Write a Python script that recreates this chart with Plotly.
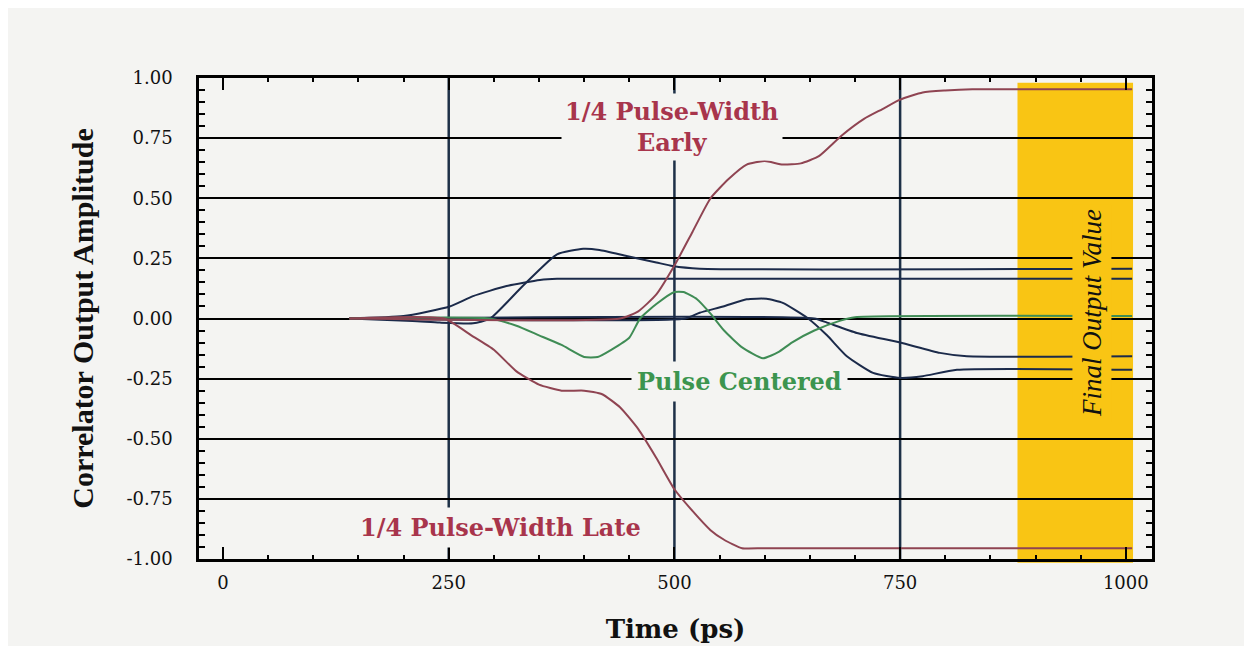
import plotly.graph_objects as go

# ---------------- data ----------------
time_early = [140, 440, 460, 480, 500, 520, 540, 560, 580, 600, 620, 640, 660, 685, 710, 730, 750, 775, 800, 830, 1007]
amp_early = [0, 0, 0.03, 0.10, 0.22, 0.36, 0.50, 0.58, 0.64, 0.655, 0.64, 0.645, 0.675, 0.76, 0.83, 0.87, 0.91, 0.94, 0.948, 0.953, 0.953]

time_late = [140, 245, 275, 300, 325, 350, 375, 400, 420, 440, 460, 480, 500, 520, 540, 555, 575, 600, 1007]
amp_late = [0, 0, -0.07, -0.13, -0.22, -0.275, -0.30, -0.30, -0.315, -0.37, -0.46, -0.58, -0.71, -0.80, -0.88, -0.92, -0.955, -0.955, -0.955]

time_centered = [140, 295, 325, 350, 375, 400, 415, 430, 450, 462, 480, 500, 510, 525, 540, 555, 575, 598, 615, 630, 655, 683, 700, 1007]
amp_centered = [0, 0, -0.03, -0.07, -0.11, -0.16, -0.16, -0.13, -0.08, 0.0, 0.06, 0.11, 0.11, 0.08, 0.02, -0.05, -0.12, -0.165, -0.14, -0.10, -0.05, -0.01, 0.005, 0.01]

time_a = [140, 210, 240, 277, 296, 332, 370, 399, 417, 447, 480, 498, 528, 1007]
amp_a = [0, -0.01, -0.017, -0.02, 0.0, 0.135, 0.267, 0.29, 0.285, 0.26, 0.233, 0.218, 0.207, 0.207]

time_b = [140, 200, 251, 277, 314, 351, 370, 1007]
amp_b = [0, 0.01, 0.05, 0.093, 0.135, 0.16, 0.165, 0.165]

time_c = [140, 512, 528, 554, 580, 602, 620, 647, 669, 691, 720, 750, 775, 813, 1007]
amp_c = [0, 0, 0.024, 0.05, 0.08, 0.082, 0.065, 0.003, -0.07, -0.157, -0.226, -0.247, -0.24, -0.213, -0.213]

time_d = [140, 655, 669, 702, 750, 794, 824, 1007]
amp_d = [0, 0, -0.017, -0.06, -0.10, -0.143, -0.157, -0.157]

marker_times = [250, 500, 750]
final_window = [880, 1008]

x_ticks = [0, 250, 500, 750, 1000]
y_ticks = [-1.0, -0.75, -0.5, -0.25, 0.0, 0.25, 0.5, 0.75, 1.0]
y_tick_text = ["-1.00", "-0.75", "-0.50", "-0.25", "0.00", "0.25", "0.50", "0.75", "1.00"]

# ---------------- styles ----------------
BG = "#F4F4F2"
RED = "#8f4452"
GREEN = "#3f8c55"
NAVY = "#1b2a4a"
YELLOW = "#F9C514"
LABEL_RED = "#a8354c"
LABEL_GREEN = "#3c954f"

fig = go.Figure()

series = [
    (time_a, amp_a, NAVY),
    (time_b, amp_b, NAVY),
    (time_c, amp_c, NAVY),
    (time_d, amp_d, NAVY),
    (time_centered, amp_centered, GREEN),
    (time_late, amp_late, RED),
    (time_early, amp_early, RED),
]
for xs, ys, col in series:
    fig.add_trace(go.Scatter(x=xs, y=ys, mode="lines",
                             line=dict(color=col, width=2, shape="spline", smoothing=0.5),
                             showlegend=False, hoverinfo="skip"))

# yellow final-output window
fig.add_shape(type="rect", xref="x", yref="paper", x0=final_window[0], x1=final_window[1],
              y0=-0.008, y1=0.99, fillcolor=YELLOW, line_width=0, layer="below")

# vertical reference lines
for t in marker_times:
    fig.add_shape(type="line", xref="x", yref="paper", x0=t, x1=t, y0=0, y1=1,
                  line=dict(color="#1d3047", width=2.5), layer="between")

serif = "DejaVu Serif"
times = "Liberation Serif"

fig.add_annotation(x=497, y=0.795, text="<b>1/4 Pulse-Width<br>Early</b>", showarrow=False,
                   font=dict(family=serif, size=24, color=LABEL_RED), bgcolor=BG, borderpad=3)
fig.add_annotation(x=572, y=-0.262, text="<b>Pulse Centered</b>", showarrow=False,
                   font=dict(family=serif, size=24, color=LABEL_GREEN), bgcolor=BG, borderpad=5)
fig.add_annotation(x=307, y=-0.87, text="<b>1/4 Pulse-Width Late</b>", showarrow=False,
                   font=dict(family=serif, size=24, color=LABEL_RED), bgcolor=BG, borderpad=5)
fig.add_annotation(x=963, y=0.025, text="<i>Final Output Value</i>", showarrow=False, textangle=-90,
                   font=dict(family=times, size=27, color="#111111"), bgcolor=YELLOW, borderpad=4)

fig.update_layout(
    width=1252, height=646,
    margin=dict(l=191, r=108, t=70, b=95),
    paper_bgcolor=BG, plot_bgcolor=BG,
    showlegend=False,
)
fig.update_xaxes(
    range=[-26.6, 1029], tickvals=x_ticks, ticktext=[str(v) for v in x_ticks],
    showgrid=False, zeroline=False,
    showline=True, linecolor="black", linewidth=2.5, mirror="allticks",
    ticks="inside", ticklen=12, tickwidth=2, tickcolor="black",
    minor=dict(dtick=50, tick0=0, ticks="inside", ticklen=4, tickwidth=1.5, tickcolor="black", showgrid=False),
    tickfont=dict(family=serif, size=18, color="#111111"),
    ticklabelstandoff=6,
    title=dict(text="<b>Time (ps)</b>", font=dict(family=serif, size=26, color="#111111"), standoff=28),
)
fig.update_yaxes(
    range=[-1.0, 1.0], tickvals=y_ticks, ticktext=y_tick_text,
    showgrid=True, gridcolor="black", gridwidth=2, zeroline=False,
    showline=True, linecolor="black", linewidth=2.5, mirror="allticks",
    ticks="inside", ticklen=8, tickwidth=2, tickcolor="black",
    minor=dict(dtick=0.05, tick0=0, ticks="inside", ticklen=6, tickwidth=2, tickcolor="black", showgrid=False),
    tickfont=dict(family=serif, size=18, color="#111111"),
    ticklabelstandoff=20,
    title=dict(text="<b>Correlator Output Amplitude</b>", font=dict(family=times, size=30, color="#111111"), standoff=24),
)

fig.write_html("out.html")
